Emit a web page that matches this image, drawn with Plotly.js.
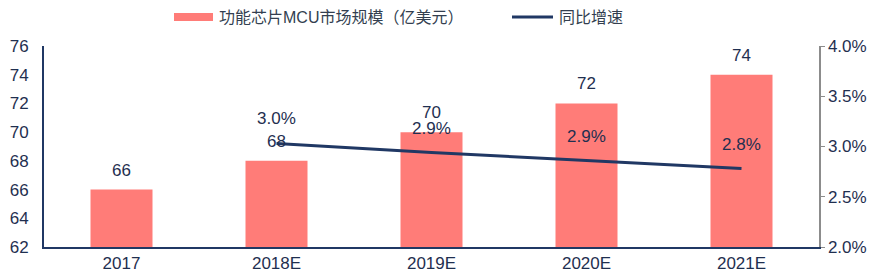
<!DOCTYPE html>
<html>
<head>
<meta charset="utf-8">
<script src="https://cdn.plot.ly/plotly-3.0.1.min.js"></script>
<style>html,body{margin:0;padding:0;background:#fff;}#chart{width:884px;height:275px;}</style>
</head>
<body>
<div id="chart"></div>
<script>
const categories = ['2017', '2018E', '2019E', '2020E', '2021E'];
const marketSize = [66, 68, 70, 72, 74];
const growthCategories = ['2018E', '2019E', '2020E', '2021E'];
const growthRate = [0.0303, 0.0294, 0.0286, 0.0278];
const barName = '功能芯片MCU市场规模（亿美元）';
const lineName = '同比增速';

const navy = '#203864';
const salmon = '#FF7C78';
const textColor = '#1F2F50';
const font = '"Liberation Sans", Arial, "Noto Sans CJK SC", sans-serif';
const cjk = '"Liberation Sans", "Noto Sans CJK SC", sans-serif';

const traces = [
  {type: 'bar', x: categories, y: marketSize, name: barName, marker: {color: salmon}, width: 0.4, yaxis: 'y', hoverinfo: 'skip'},
  {type: 'scatter', mode: 'lines', x: growthCategories, y: growthRate, name: lineName, yaxis: 'y2', line: {color: navy, width: 3}, hoverinfo: 'skip'}
];

const annotations = [];
categories.forEach((c, i) => annotations.push({x: i, y: marketSize[i], xref: 'x', yref: 'y', text: String(marketSize[i]), showarrow: false, yanchor: 'bottom', yshift: 8, font: {family: font, size: 17, color: textColor}}));
growthCategories.forEach((c, i) => annotations.push({x: categories.indexOf(c), y: growthRate[i], xref: 'x', yref: 'y2', text: (growthRate[i]*100).toFixed(1) + '%', showarrow: false, yanchor: 'bottom', yshift: 13, font: {family: font, size: 17, color: textColor}}));
// custom legend texts
annotations.push({xref: 'paper', yref: 'paper', x: (217-44)/775, y: 1 + (46-17)/201, xanchor: 'left', yanchor: 'middle', text: barName, showarrow: false, font: {family: cjk, size: 16, color: '#333F50'}});
annotations.push({xref: 'paper', yref: 'paper', x: (557-44)/775, y: 1 + (46-17)/201, xanchor: 'left', yanchor: 'middle', text: lineName, showarrow: false, font: {family: cjk, size: 16, color: '#333F50'}});

const shapes = [
  {type: 'rect', xref: 'paper', yref: 'paper', x0: (174-44)/775, x1: (213-44)/775, y0: 1 + (46-21)/201, y1: 1 + (46-13)/201, fillcolor: salmon, line: {width: 0}},
  {type: 'line', xref: 'paper', yref: 'paper', x0: (512-44)/775, x1: (553-44)/775, y0: 1 + (46-17)/201, y1: 1 + (46-17)/201, line: {color: navy, width: 3}}
];

const layout = {
  width: 884, height: 275,
  margin: {l: 44, r: 65, t: 46, b: 28, pad: 0},
  paper_bgcolor: '#fff', plot_bgcolor: '#fff',
  showlegend: false,
  font: {family: font, size: 17, color: textColor},
  xaxis: {type: 'category', range: [-0.5, 4.5], showgrid: false, zeroline: false, showline: true, linecolor: navy, linewidth: 2, ticks: '', tickfont: {size: 17, color: textColor}, fixedrange: true},
  yaxis: {range: [62, 76], dtick: 2, showgrid: false, zeroline: false, showline: true, linecolor: navy, linewidth: 2, ticks: '', ticklabelstandoff: 10, tickfont: {size: 17, color: textColor}},
  yaxis2: {overlaying: 'y', side: 'right', range: [0.02, 0.04], dtick: 0.005, tickformat: '.1%', showgrid: false, zeroline: false, showline: true, linecolor: '#8C8C8C', linewidth: 1.5, ticks: 'outside', ticklen: 4, tickcolor: '#8C8C8C', tickfont: {size: 17, color: textColor}},
  annotations: annotations,
  shapes: shapes,
  bargap: 0.6
};

Plotly.newPlot('chart', traces, layout, {staticPlot: true, displayModeBar: false});
</script>
</body>
</html>
